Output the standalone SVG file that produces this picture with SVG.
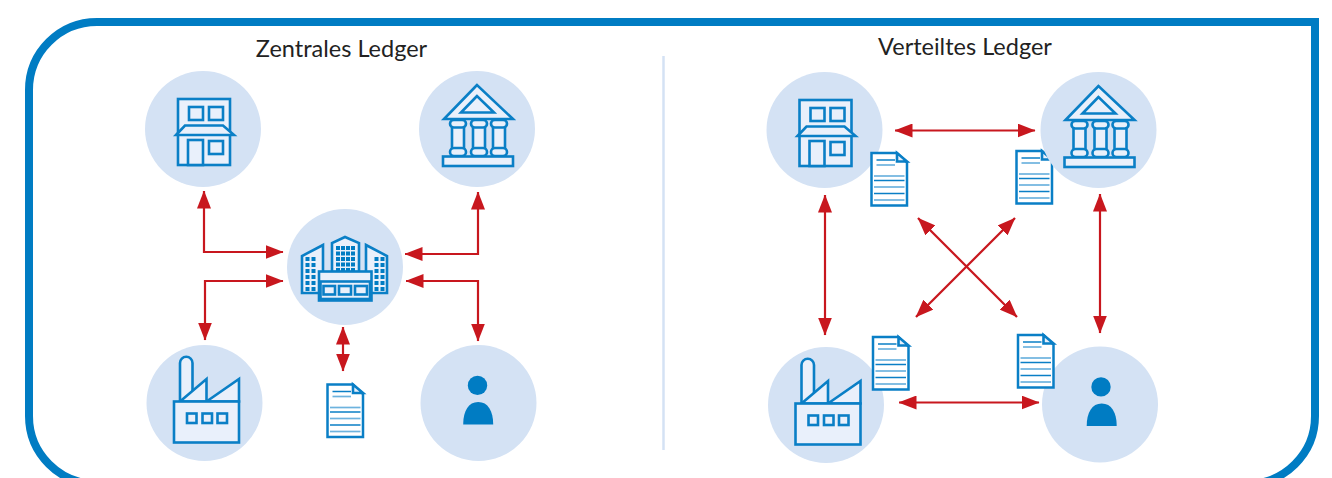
<svg xmlns="http://www.w3.org/2000/svg" xmlns:xlink="http://www.w3.org/1999/xlink" width="1332" height="478" viewBox="0 0 1332 478">
<style>
.title{font-family:"Lato","Liberation Sans",sans-serif;font-size:23.500px;fill:#222;text-anchor:middle}
.disc{fill:#d4e2f4}
.ic{fill:#e9f0fb;stroke:#0a7fc6;stroke-width:2.600;stroke-linejoin:miter}
.ln{stroke:#0a7fc6;stroke-width:1.500;fill:none}
.ll{stroke:#6db3de;stroke-width:1.700;fill:none}
.dot{fill:#007cc3}
.arrow{fill:none;stroke:#c8171e;stroke-width:2.200;marker-start:url(#head);marker-end:url(#head)}
</style>
<defs>
<marker id="head" markerUnits="userSpaceOnUse" viewBox="0 0 18 14" refX="17.500" refY="7" markerWidth="18" markerHeight="14" orient="auto-start-reverse"><path d="M0 0L18 7L0 14Z" fill="#c8171e"/></marker>
<g id="store">
<circle class="disc" r="58"/>
<rect class="ic" x="-25" y="-30" width="52" height="66"/>
<rect class="ic" x="-14" y="-22" width="14" height="13"/>
<rect class="ic" x="6" y="-22" width="14" height="13"/>
<path class="ic" d="M-27 6L-18 -3.500H20L31 6Z"/>
<rect class="ic" x="-15" y="11" width="15" height="25"/>
<rect class="ic" x="6" y="12" width="14" height="13"/>
</g>
<g id="bank">
<circle class="disc" r="58"/>
<path class="ic" d="M0 -44L-33 -10H36Z"/>
<path class="ic" d="M0 -33L-16 -16.500H17Z"/>
<g id="col">
<rect class="ic" x="-25" y="-6" width="12" height="26"/>
<rect class="ic" x="-27" y="-9" width="16" height="7.500" rx="3.700"/>
<rect class="ic" x="-27" y="19" width="16" height="8" rx="4"/>
</g>
<use xlink:href="#col" href="#col" x="21"/>
<use xlink:href="#col" href="#col" x="41"/>
<rect class="ic" x="-34" y="27.500" width="70" height="9.500"/>
</g>
<g id="factory">
<circle class="disc" r="58"/>
<path class="ic" d="M-24.500 -1.500V-40A6.200 6.200 0 0 1 -12 -40V-1.500Z"/>
<path class="ic" d="M-24.500 -1.500L2 -24V-1.500Z"/>
<path class="ic" d="M2 -1.500L34.500 -24V-1.500Z"/>
<rect class="ic" x="-30.500" y="-1.500" width="65" height="41"/>
<rect class="ic" x="-17.500" y="10.500" width="9.500" height="9.500"/>
<rect class="ic" x="-2" y="10.500" width="9.500" height="9.500"/>
<rect class="ic" x="13" y="10.500" width="9.500" height="9.500"/>
</g>
<g id="person-icon">
<circle class="dot" cx="1" cy="-17.600" r="9.700"/>
<path class="dot" d="M-13.300 21.400C-13.300 8 -8 -1 1.700 -1C11.500 -1 16.700 8 16.700 21.400Z"/>
</g>
<g id="doc">
<path d="M1 1H26.500L36.500 10.500V53.500H1Z" fill="#fff" stroke="#0a7fc6" stroke-width="2.500"/>
<path class="ic" d="M26.500 1V9.500H36.500Z" stroke-width="1.800"/>
<path class="ln" d="M6 8H24.500"/>
<path class="ll" d="M6 13H24.500"/>
<path class="ll" d="M3.500 24H34"/>
<path class="ln" d="M3.500 28.500H34"/>
<path class="ll" d="M3.500 35H34"/>
<path class="ln" d="M3.500 41.500H34"/>
<path class="ll" d="M3.500 48H34"/>
</g>
</defs>
<path id="frame" d="M97 22H1315V416A68 68 0 0 1 1247 484H97A68 68 0 0 1 29 416V90A68 68 0 0 1 97 22Z" fill="#fff" stroke="#007cc3" stroke-width="8"/>
<path id="divider" d="M663.500 56V450" stroke="#d4e2f4" stroke-width="2.500" fill="none"/>
<text id="title-left" class="title" x="341.500" y="57">Zentrales Ledger</text>
<text id="title-right" class="title" x="965" y="55">Verteiltes Ledger</text>
<g id="node-left-store"><use href="#store" xlink:href="#store" x="203" y="129"/></g>
<g id="node-left-bank"><use href="#bank" xlink:href="#bank" x="477" y="129"/></g>
<g id="node-left-factory"><use href="#factory" xlink:href="#factory" x="204.500" y="403"/></g>
<g id="node-left-person"><circle class="disc" cx="478.500" cy="403" r="58"/><use href="#person-icon" xlink:href="#person-icon" x="476.500" y="403"/></g>
<g id="node-left-doc"><use href="#doc" xlink:href="#doc" x="326.500" y="383.500"/></g>
<g id="node-center">
<circle class="disc" cx="345" cy="267" r="58"/>
<path class="ic" d="M302 293V256L323 245V293Z"/>
<path class="ic" d="M332 272V243L345 237L359 243V272Z"/>
<path class="ic" d="M366 293V245L387 256V293Z"/>
<path class="dot" d="M305.500 257h4v4h-4zM311.500 257h4v4h-4zM305.500 263h4v4h-4zM311.500 263h4v4h-4zM305.500 269h4v4h-4zM311.500 269h4v4h-4zM305.500 275h4v4h-4zM311.500 275h4v4h-4zM305.500 281h4v4h-4zM311.500 281h4v4h-4zM305.500 287h4v4h-4zM311.500 287h4v4h-4z"/>
<path class="dot" d="M374.500 257h4v4h-4zM380.500 257h4v4h-4zM374.500 263h4v4h-4zM380.500 263h4v4h-4zM374.500 269h4v4h-4zM380.500 269h4v4h-4zM374.500 275h4v4h-4zM380.500 275h4v4h-4zM374.500 281h4v4h-4zM380.500 281h4v4h-4zM374.500 287h4v4h-4zM380.500 287h4v4h-4z"/>
<path class="dot" d="M336 246h4v4h-4zM341 246h4v4h-4zM346 246h4v4h-4zM351 246h4v4h-4zM336 251.500h4v4h-4zM341 251.500h4v4h-4zM346 251.500h4v4h-4zM351 251.500h4v4h-4zM336 257h4v4h-4zM341 257h4v4h-4zM346 257h4v4h-4zM351 257h4v4h-4zM336 262.500h4v4h-4zM341 262.500h4v4h-4zM346 262.500h4v4h-4zM351 262.500h4v4h-4zM336 268h4v3h-4zM341 268h4v3h-4zM346 268h4v3h-4zM351 268h4v3h-4z"/>
<rect class="ic" x="319" y="271.500" width="52.500" height="29"/>
<rect class="ic" x="320.500" y="281.500" width="49.500" height="17.500" stroke-width="1.800"/>
<rect class="ic" x="323.500" y="286" width="11.500" height="8.500" stroke-width="2"/>
<rect class="ic" x="339" y="286" width="12" height="8.500" stroke-width="2"/>
<rect class="ic" x="355" y="286" width="12" height="8.500" stroke-width="2"/>
</g>
<g id="node-right-bank-doc"><use href="#doc" xlink:href="#doc" x="1015.500" y="150"/></g>
<g id="node-right-store"><use href="#store" xlink:href="#store" x="824.500" y="130"/></g>
<g id="node-right-bank"><use href="#bank" xlink:href="#bank" x="1098.500" y="130"/></g>
<g id="node-right-factory"><use href="#factory" xlink:href="#factory" x="826" y="405"/></g>
<g id="node-right-person"><circle class="disc" cx="1100" cy="404.500" r="58"/><use href="#person-icon" xlink:href="#person-icon" x="1100" y="404.500"/></g>
<g id="node-right-store-doc"><use href="#doc" xlink:href="#doc" x="870.500" y="152"/></g>
<g id="node-right-factory-doc"><use href="#doc" xlink:href="#doc" x="872" y="336"/></g>
<g id="node-right-person-doc"><use href="#doc" xlink:href="#doc" x="1017" y="334"/></g>
<g id="connectors">
<path class="arrow" d="M204 191V252H283"/>
<path class="arrow" d="M405 254H478V192"/>
<path class="arrow" d="M283 281H205V340"/>
<path class="arrow" d="M406 281H478V341"/>
<path class="arrow" d="M343 327V371"/>
<path class="arrow" d="M895 130.500H1035"/>
<path class="arrow" d="M825 195V335"/>
<path class="arrow" d="M1100 194V333"/>
<path class="arrow" d="M899 402.500H1039"/>
<path class="arrow" d="M918 218L1017 317"/>
<path class="arrow" d="M1015 218L916 317"/>
</g>
</svg>
